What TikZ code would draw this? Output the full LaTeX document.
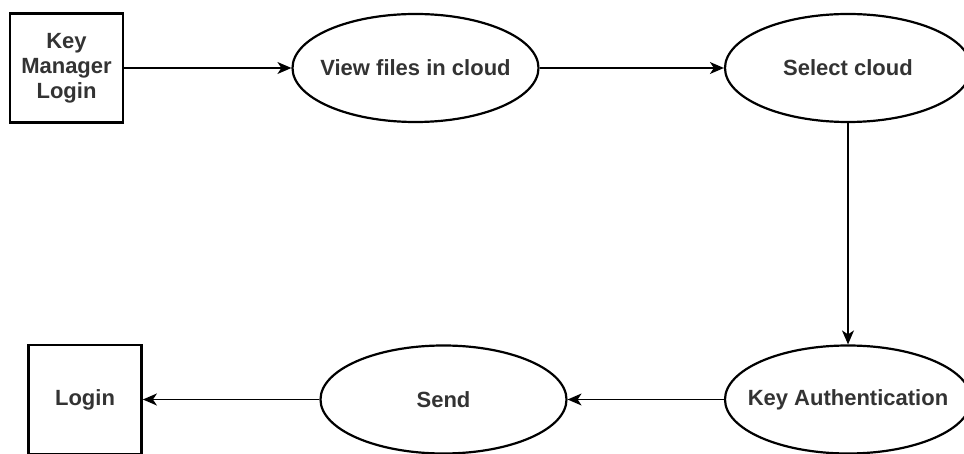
\documentclass[tikz,border=0pt]{standalone}
\usepackage{fontspec}
\setmainfont{Liberation Sans}
\usetikzlibrary{arrows.meta,shapes.geometric}
\begin{document}
\begin{tikzpicture}[x=1pt,y=-1pt,
  txt/.style={text=black!80, font=\fontsize{22}{25}\selectfont\bfseries, align=center, inner sep=0pt},
  boxnode/.style={txt, draw=black, line width=2.8pt, rectangle, minimum width=113pt, minimum height=109pt},
  ellnode/.style={draw=black, line width=2.2pt, ellipse, inner sep=0pt, minimum width=246pt, minimum height=108pt, label={[txt]center:#1}},
  flow/.style={draw=black, line width=1.4pt, -{Stealth[length=14pt,width=12pt,inset=4pt]}}]
\useasboundingbox (0,0) rectangle (964,454);
\clip (0,0) rectangle (964,454);
\node[boxnode] (kml) at (66.5,68) {Key\\Manager\\Login};
\node[ellnode={View files in cloud}] (view) at (415.5,68) {};
\node[ellnode={Select cloud}] (sel) at (848,68) {};
\node[ellnode={Key Authentication}] (ka) at (848,399.5) {};
\node[ellnode={Send}] (send) at (443.5,399.5) {};
\node[boxnode] (login) at (85,399.5) {Login};
\draw[flow] (kml.east) -- (view.west);
\draw[flow] (view.east) -- (sel.west);
\draw[flow] (sel.south) -- (ka.north);
\draw[flow] (ka.west) -- (send.east);
\draw[flow] (send.west) -- (login.east);
\end{tikzpicture}
\end{document}
